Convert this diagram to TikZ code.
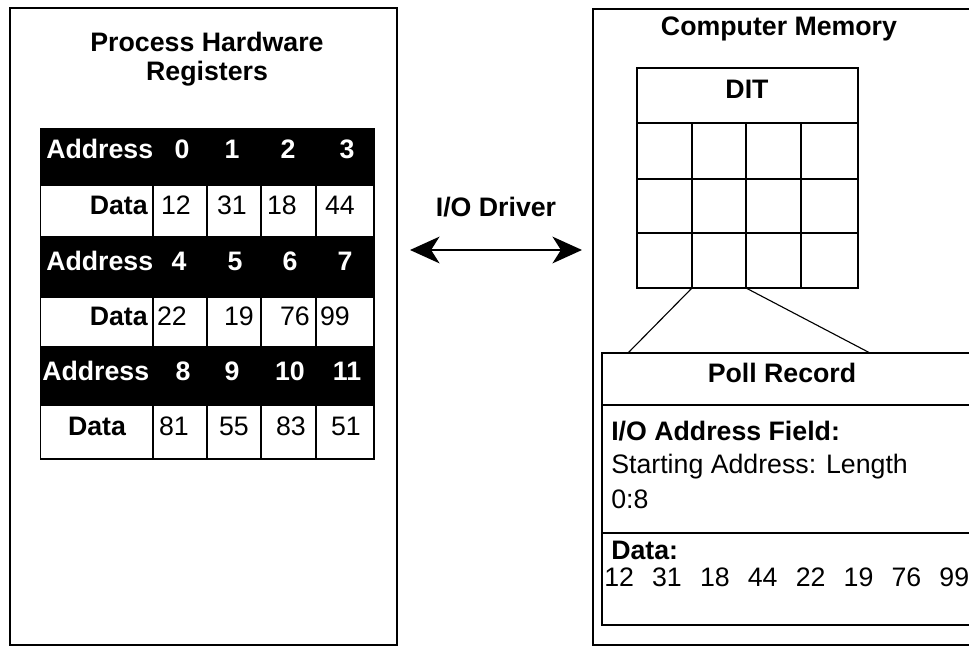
\documentclass[tikz,border=0pt]{standalone}
\usepackage{fontspec}
\setmainfont{Liberation Sans}
\usetikzlibrary{arrows.meta}
\newcommand{\valgap}{\hspace{0.68em}}

\begin{document}
\begin{tikzpicture}[x=0.025cm, y=-0.025cm,
      every node/.style={font=\fontsize{19}{21}\selectfont, inner sep=0pt, text height=0.72em, text depth=0.2em},
      head/.style={font=\fontsize{19}{21}\selectfont\bfseries, align=center},
      strong/.style={font=\fontsize{19}{21}\selectfont\bfseries},
      addr/.style={strong, text=white},
      panel/.style={draw=black, line width=1.4pt},
      gridline/.style={draw=black, line width=1.3pt},
      recline/.style={draw=black, line width=1pt},
      link/.style={draw=black, line width=0.8pt},
      drv/.style={line width=1.3pt, {Stealth[length=21pt,width=19pt,inset=6pt]}-{Stealth[length=21pt,width=19pt,inset=6pt]}}
    ]
    \useasboundingbox (0,0) rectangle (969,648);
    \clip (0,0) rectangle (969,648);
    \fill[white] (0,0) rectangle (969,648);
    % hardware registers
    \draw[panel] (10,8) rectangle (397,645);
    \node[head, text height=, text depth=] (regtitle) at (207,59) {Process Hardware\\Registers};
    \fill[black] (40,128) rectangle (375,460);
    \foreach \ya/\yb in {185/236, 297/346, 405/458} {
      \foreach \xa/\xb in {41/152, 154/206, 208/260, 262/315, 317/373}
        \fill[white] (\xa,\ya+1) rectangle (\xb,\yb);
    }
    \foreach \i/\x/\y in {1/46/155, 2/46/267, 3/42/377}
      \node[addr, anchor=west] (addr\i) at (\x,\y) {Address};
    \foreach \n/\x/\y in {0/182/155, 1/232/155, 2/288/155, 3/347/155,
                          4/179/267, 5/235/267, 6/290/267, 7/345/267,
                          8/183/377, 9/232/377, 10/290/377, 11/347/377}
      \node[addr] (n\n) at (\x,\y) {\n};
    \node[strong, anchor=east] (data1) at (148,211) {Data};
    \node[strong, anchor=east] (data2) at (148,322) {Data};
    \node[strong] (data3) at (97,432) {Data};
    \foreach \t/\x/\y in {12/176/211, 31/232/211, 18/282/211, 44/340/211,
                          22/172/322, 19/239/322, 76/295/322, 99/335/322,
                          81/174/432, 55/234/432, 83/291/432, 51/346/432}
      \node (val\t) at (\x,\y) {\t};
    % driver
    \coordinate (drvL) at (410,250);
    \coordinate (drvR) at (582,250);
    \node[head] (drvlabel) at (496,213) {I/O Driver};
    \draw[drv] (drvL) -- (drvR);
    % computer memory
    \draw[panel] (593,9) rectangle (985,645);
    \node[head] (memtitle) at (779,32) {Computer Memory};
    \draw[gridline] (637,68) rectangle (858,288);
    \foreach \y in {123,179,233}
      \draw[gridline] (637,\y) -- (858,\y);
    \foreach \x in {692,746,801}
      \draw[gridline] (\x,123) -- (\x,288);
    \node[head] (dit) at (747,95) {DIT};
    \coordinate (ditA) at (692,288);
    \coordinate (ditB) at (746,288);
    \draw[recline] (602,353) rectangle (985,625);
    \draw[recline] (602,405) -- (985,405);
    \draw[recline] (602,533) -- (985,533);
    \coordinate (pollA) at (628,353);
    \coordinate (pollB) at (870,353);
    \draw[link] (ditA) -- (pollA);
    \draw[link] (ditB) -- (pollB);
    \node[head] (polltitle) at (782,379) {Poll Record};
    \node[strong, anchor=west] (iofield) at (611,437) {I/O Address Field:};
    \node[anchor=west] (startlen) at (611,470) {Starting Address: Length};
    \node[anchor=west] (range) at (611,505) {0:8};
    \node[strong, anchor=west] (pdata) at (611,556) {Data:};
    \node[anchor=west] (pvals) at (604,583) {12\valgap 31\valgap 18\valgap 44\valgap 22\valgap 19\valgap 76\valgap 99};
  \end{tikzpicture}
\end{document}
